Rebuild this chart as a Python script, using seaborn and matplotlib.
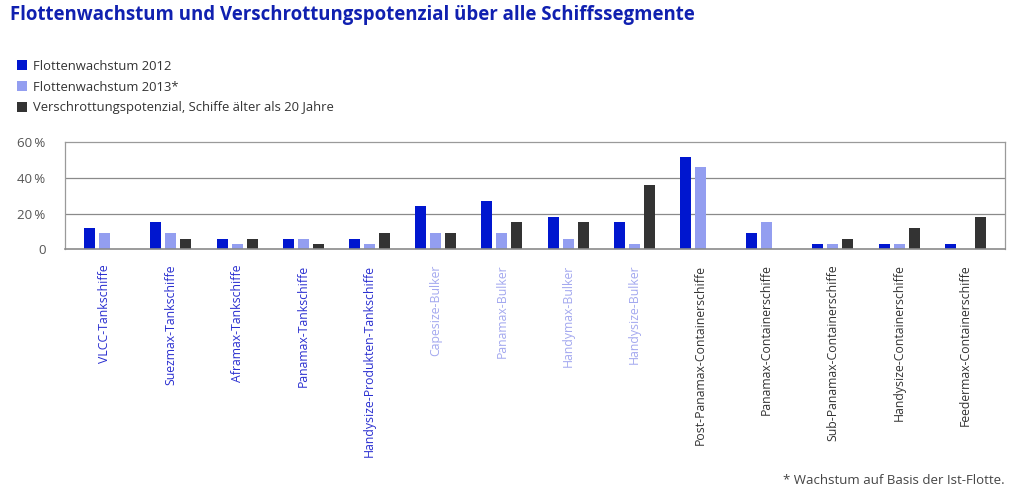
import pandas as pd
import numpy as np
import seaborn as sns
import matplotlib.pyplot as plt
from matplotlib.ticker import FuncFormatter

# Data (percent)
segments = [
    "VLCC-Tankschiffe", "Suezmax-Tankschiffe", "Aframax-Tankschiffe",
    "Panamax-Tankschiffe", "Handysize-Produkten-Tankschiffe",
    "Capesize-Bulker", "Panamax-Bulker", "Handymax-Bulker", "Handysize-Bulker",
    "Post-Panamax-Containerschiffe", "Panamax-Containerschiffe",
    "Sub-Panamax-Containerschiffe", "Handysize-Containerschiffe",
    "Feedermax-Containerschiffe",
]
segment_type = ["tank"] * 5 + ["bulk"] * 4 + ["cont"] * 5
growth_2012 = [12, 15, 6, 6, 6, 24, 27, 18, 15, 52, 9, 3, 3, 3]
growth_2013 = [9, 9, 3, 6, 3, 9, 9, 6, 3, 46, 15, 3, 3, 0]
scrapping = [0, 6, 6, 3, 9, 9, 15, 15, 36, 0, 0, 6, 12, 18]

series = ["Flottenwachstum 2012", "Flottenwachstum 2013*",
          "Verschrottungspotenzial, Schiffe älter als 20 Jahre"]
colors = ["#0016cf", "#939ef0", "#333333"]
label_colors = {"tank": "#2a2fd0", "bulk": "#a3a8ef", "cont": "#333333"}

df = pd.DataFrame({
    "Segment": segments * 3,
    "Serie": np.repeat(series, len(segments)),
    "Wert": growth_2012 + growth_2013 + scrapping,
})

sns.set_style("white")
plt.rcParams['font.family'] = ['Open Sans', 'DejaVu Sans']

fig = plt.figure(figsize=(10.24, 4.98), dpi=100)
ax = fig.add_axes([65 / 1024, 249 / 498 - 0.0005, 940 / 1024, 107 / 498])

sns.barplot(data=df, x="Segment", y="Wert", hue="Serie", order=segments,
            hue_order=series, palette=colors, width=0.68, gap=0.27,
            linewidth=0, saturation=1, ax=ax)

ax.set_xlim(-0.6, 13.6)
ax.set_ylim(0, 60)
ax.set_yticks([0, 20, 40, 60])
ax.yaxis.set_major_formatter(FuncFormatter(lambda v, p: "0" if v == 0 else f"{v:.0f}\u2009%"))
ax.set_xlabel("")
ax.set_ylabel("")
for y in (20, 40):
    ax.axhline(y, color="#8a8a8a", lw=0.9, zorder=0)
for s in ax.spines.values():
    s.set_color("#9a9a9a")
    s.set_linewidth(0.9)
ax.spines["bottom"].set_color("#8a8a8a")
ax.spines["bottom"].set_linewidth(1.2)

ax.tick_params(axis="y", length=0, pad=14, labelsize=9.5, labelcolor="#555555")
ax.tick_params(axis="x", length=0, pad=11, labelsize=8.8)
plt.setp(ax.get_xticklabels(), rotation=90, va="top", ha="center")
for lbl, t in zip(ax.get_xticklabels(), segment_type):
    lbl.set_color(label_colors[t])

handles, labels = ax.get_legend_handles_labels()
ax.get_legend().remove()
fig.legend(handles, labels, loc="upper left", bbox_to_anchor=(5 / 1024, 1 - 48 / 498),
           frameon=False, fontsize=9.4, handlelength=0.8, handleheight=0.8,
           handletextpad=0.45, labelspacing=0.6, labelcolor="#333333")

fig.text(10 / 1024, 1 - 15 / 498, "Flottenwachstum und Verschrottungspotenzial über alle Schiffssegmente",
         fontsize=13.4, fontweight="bold", color="#1020b0", va="center", ha="left")
fig.text(1005 / 1024, 1 - 480 / 498, "* Wachstum auf Basis der Ist-Flotte.",
         fontsize=9.5, color="#444444", ha="right", va="center")

fig.savefig("out.png", dpi=100)
